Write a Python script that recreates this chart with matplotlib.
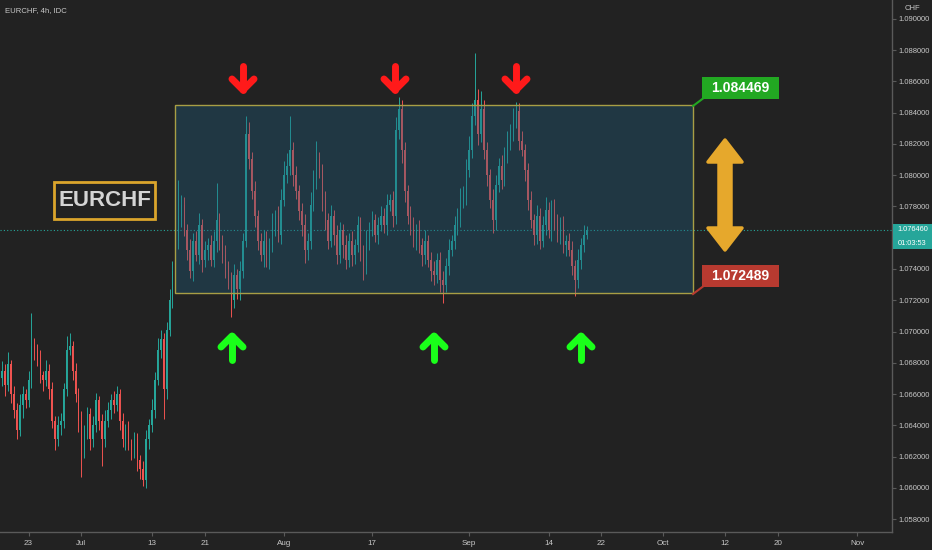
import numpy as np
import matplotlib
matplotlib.use("Agg")
import matplotlib.pyplot as plt
from matplotlib.patches import Rectangle, Polygon

# prices in pips above 1.0700, one bar per 8 hours (3 per trading day)
BASE = 1.07
FIRST_OPEN = -30
CLOSE_PIPS = [
    -25, -34, -21, -40, -50, -63, -47, -40, -44, -31,
    -9, -12, -18, -28, -31, -25, -37, -57, -69, -60,
    -57, -37, -12, -9, -25, -40, -57, -76, -63, -53,
    -69, -60, -44, -57, -69, -57, -50, -44, -47, -40,
    -57, -69, -63, -72, -76, -69, -82, -88, -95, -69,
    -60, -50, -31, -12, -5, -37, 1, 20, 39, 58,
    74, 81, 65, 52, 39, 58, 49, 68, 46, 52,
    55, 46, 58, 71, 58, 49, 42, 33, 20, 36,
    27, 39, 58, 126, 110, 90, 74, 58, 49, 58,
    46, 55, 68, 74, 62, 84, 100, 106, 116, 100,
    90, 77, 68, 52, 58, 81, 97, 110, 103, 84,
    71, 58, 74, 62, 49, 65, 55, 46, 58, 49,
    55, 68, 52, 42, 58, 65, 71, 62, 68, 74,
    68, 81, 84, 74, 129, 142, 116, 90, 74, 68,
    58, 65, 55, 49, 58, 46, 39, 36, 46, 33,
    30, 42, 52, 58, 68, 74, 84, 87, 103, 116,
    138, 148, 126, 142, 116, 100, 84, 71, 94, 106,
    97, 113, 122, 129, 135, 141, 122, 116, 103, 84,
    71, 62, 74, 58, 68, 78, 65, 78, 71, 62,
    68, 55, 58, 52, 42, 33, 46, 55, 62, 64.6,
]
UP_WICK = [
    6, 4, 8, 3, 5, 4, 7, 5, 3, 6,
    21, 5, 4, 6, 3, 7, 4, 5, 3, 6,
    5, 4, 9, 8, 3, 5, 4, 6, 3, 5,
    4, 6, 5, 3, 4, 7, 5, 4, 6, 5,
    3, 5, 4, 6, 3, 5, 4, 3, 5, 6,
    4, 7, 5, 8, 6, 4, 5, 7, 6, 9,
    23, 6, 5, 4, 7, 5, 6, 8, 4, 6,
    5, 7, 6, 24, 5, 4, 6, 3, 5, 7,
    4, 6, 5, 12, 8, 5, 6, 4, 5, 7,
    6, 5, 8, 4, 6, 7, 9, 8, 22, 5,
    6, 4, 5, 7, 5, 8, 6, 12, 5, 4,
    6, 5, 7, 4, 6, 5, 4, 7, 5, 6,
    4, 6, 5, 3, 7, 5, 6, 4, 5, 6,
    5, 7, 4, 6, 8, 8, 6, 5, 4, 6,
    5, 4, 6, 5, 7, 4, 5, 6, 4, 5,
    6, 5, 7, 4, 6, 5, 8, 6, 7, 9,
    8, 30, 7, 12, 6, 5, 4, 7, 6, 5,
    7, 5, 6, 4, 8, 6, 5, 6, 4, 5,
    6, 4, 7, 5, 6, 8, 5, 6, 7, 4,
    5, 6, 4, 5, 6, 4, 7, 5, 6, 3,
]
DN_WICK = [
    5, 7, 4, 6, 5, 6, 4, 8, 5, 4,
    5, 6, 4, 5, 7, 4, 6, 5, 7, 4,
    6, 5, 4, 3, 6, 5, 7, 17, 5, 6,
    7, 5, 4, 6, 17, 5, 4, 6, 5, 4,
    6, 5, 7, 4, 6, 5, 7, 6, 4, 5,
    6, 4, 5, 3, 5, 19, 6, 4, 5, 6,
    5, 7, 4, 6, 5, 7, 4, 6, 8, 5,
    6, 4, 5, 7, 6, 5, 8, 6, 11, 5,
    6, 7, 5, 4, 6, 5, 7, 6, 4, 8,
    5, 6, 4, 7, 5, 6, 4, 5, 6, 7,
    5, 6, 7, 8, 6, 5, 4, 6, 5, 7,
    6, 5, 4, 7, 6, 5, 8, 6, 5, 7,
    6, 4, 7, 9, 5, 6, 4, 5, 6, 4,
    5, 6, 4, 7, 5, 6, 8, 7, 5, 6,
    4, 6, 5, 7, 6, 5, 7, 6, 5, 8,
    12, 5, 6, 4, 5, 6, 7, 5, 6, 4,
    5, 6, 7, 5, 6, 7, 5, 8, 6, 5,
    6, 4, 5, 6, 7, 5, 6, 4, 7, 6,
    5, 7, 6, 5, 4, 6, 5, 7, 6, 5,
    6, 5, 7, 4, 6, 10, 5, 6, 4, 3,
]

# x is counted in trading days, day 0 = Mon 22 Jun
FIRST_DAY = -2
TICK_DAYS = [1, 7, 15, 21, 30, 40, 51, 60, 66, 73, 80, 86, 95]
TICK_LABELS = ["23", "Jul", "13", "21", "Aug", "17", "Sep", "14", "22", "Oct", "12", "20", "Nov"]
PRICE_TICKS = np.round(np.arange(1.058, 1.0901, 0.002), 3)

RANGE_TOP = 1.084469
RANGE_BOT = 1.072489
LAST_PRICE = 1.076460

BG = "#222222"
UP = "#26a69a"
DOWN = "#ef5350"
GRID = "#5a5a5a"
TXT = "#c8c8c8"
SMALL = ["Liberation Sans", "DejaVu Sans"]

closes = BASE + np.array(CLOSE_PIPS) / 1e4
opens = np.r_[BASE + FIRST_OPEN / 1e4, closes[:-1]]
highs = np.maximum(opens, closes) + np.array(UP_WICK) / 1e4
lows = np.minimum(opens, closes) - np.array(DN_WICK) / 1e4
xs = FIRST_DAY + np.arange(len(closes)) / 3

W, H = 932, 550
AX_W, AX_H = 892, 532
XL = (-2.234, 98.97)
YL = (1.057181, 1.091197)

fig = plt.figure(figsize=(W / 100, H / 100), dpi=100, facecolor=BG)
ax = fig.add_axes([0, (H - AX_H) / H, AX_W / W, AX_H / H], facecolor=BG)
ax.set_xlim(*XL)
ax.set_ylim(*YL)


def px(xp, yp):
    # pixel position (top-left origin) -> data coords, for the drawings
    return (XL[0] + xp / AX_W * (XL[1] - XL[0]),
            YL[1] - yp / AX_H * (YL[1] - YL[0]))


# candles
col = np.where(closes >= opens, UP, DOWN)
ax.vlines(xs, lows, highs, colors=col, lw=0.7, zorder=2)
body_lo = np.minimum(opens, closes)
body_h = np.maximum(np.abs(closes - opens), 0.00003)
ax.bar(xs, body_h, bottom=body_lo, width=0.16, color=col, lw=0, zorder=2)

# last price line
ax.axhline(LAST_PRICE, color=UP, lw=0.8, ls=(0, (1, 2)), zorder=1)

# range box
x0, _ = px(175, 0)
x1, _ = px(693, 0)
ax.add_patch(Rectangle((x0, RANGE_BOT), x1 - x0, RANGE_TOP - RANGE_BOT,
                       facecolor="#1f6183", alpha=0.35, lw=0, zorder=3))
ax.add_patch(Rectangle((x0, RANGE_BOT), x1 - x0, RANGE_TOP - RANGE_BOT,
                       facecolor="none", edgecolor="#a89e45", lw=1, zorder=4))


def callout(y_box, text, color):
    bx0, by0 = px(702, y_box - 11)
    bx1, by1 = px(779, y_box + 11)
    ax.add_patch(Rectangle((bx0, by1), bx1 - bx0, by0 - by1, facecolor=color,
                           lw=0, zorder=6))
    tx, ty = px(740.5, y_box)
    ax.text(tx, ty, text, color="white", fontsize=10, fontweight="bold",
            family=["Liberation Sans", "DejaVu Sans"], ha="center", va="center", zorder=7)


callout(88, "%.6f" % RANGE_TOP, "#22a822")
callout(276, "%.6f" % RANGE_BOT, "#b83a30")
ax.plot(*zip(px(693, 106), px(705, 97)), color="#22a822", lw=1.5, zorder=5)
ax.plot(*zip(px(693, 294), px(705, 285)), color="#b83a30", lw=1.5, zorder=5)


def chevron(xc, ytip, down, color):
    s = 1 if down else -1
    tail = px(xc, ytip - s * 24)
    tip = px(xc, ytip)
    wl = px(xc - 11, ytip - s * 11)
    wr = px(xc + 11, ytip - s * 11)
    kw = dict(color=color, lw=5, solid_capstyle="round", solid_joinstyle="round", zorder=8)
    ax.plot([tail[0], tip[0]], [tail[1], tip[1]], **kw)
    ax.plot([wl[0], tip[0], wr[0]], [wl[1], tip[1], wr[1]], **kw)


for xc in (243, 395, 516):
    chevron(xc, 90, True, "#ff1a1a")
for xc in (232, 434, 581):
    chevron(xc, 336, False, "#1aff1a")

# double-headed gold arrow
shape = [(725, 140), (742, 162), (731, 162), (731, 228), (742, 228), (725, 250),
         (708, 228), (719, 228), (719, 162), (708, 162)]
ax.add_patch(Polygon([px(a, b) for a, b in shape], closed=True, facecolor="#e6a82c",
                     edgecolor="#e6a82c", lw=2.5, joinstyle="round", zorder=8))

# EURCHF tag
ex0, ey0 = px(54, 219)
ex1, ey1 = px(155, 182)
ax.add_patch(Rectangle((ex0, ey0), ex1 - ex0, ey1 - ey0, facecolor=BG,
                       edgecolor="#dba52c", lw=2, zorder=8))
ax.text(*px(104.5, 201), "EURCHF", color="#d4d4d4", fontsize=16, fontweight="bold",
        family=["Liberation Sans", "DejaVu Sans"], ha="center", va="center", zorder=9)

# axes look
for side in ("top", "left"):
    ax.spines[side].set_visible(False)
for side in ("right", "bottom"):
    ax.spines[side].set_color(GRID)
    ax.spines[side].set_linewidth(1)
ax.yaxis.tick_right()
ax.set_yticks(PRICE_TICKS)
# the 1.076 label sits under the last-price tag, so it stays blank
ylabels = ["" if abs(v - 1.076) < 1e-9 else "%.6f" % v for v in PRICE_TICKS]
ax.set_yticklabels(ylabels, family=SMALL, fontsize=5.5, color=TXT)
ax.set_xticks(TICK_DAYS)
ax.set_xticklabels(TICK_LABELS, family=SMALL, fontsize=5.8, color=TXT)
ax.tick_params(axis="y", length=3, width=0.8, color=GRID, pad=2)
ax.tick_params(axis="x", length=3, width=0.8, color=GRID, pad=3)

# header and last price tag
fig.text(5 / W, 1 - 11 / H, "EURCHF, 4h, IDC", family=SMALL, fontsize=5.6,
         color=TXT, va="center", ha="left")
fig.text(912 / W, 1 - 8 / H, "CHF", family=SMALL, fontsize=5.5, color=TXT,
         va="center", ha="center")
fig.add_artist(Rectangle((893 / W, 1 - 249 / H), 39 / W, 25 / H,
                         transform=fig.transFigure, facecolor=UP, lw=0))
fig.text(912.5 / W, 1 - 229.5 / H, "%.6f" % LAST_PRICE, family=SMALL, fontsize=5.3,
         color="white", va="center", ha="center")
fig.text(912.5 / W, 1 - 243 / H, "01:03:53", family=SMALL, fontsize=5.3,
         color="white", va="center", ha="center")

fig.savefig("out.png", dpi=100, facecolor=BG)
